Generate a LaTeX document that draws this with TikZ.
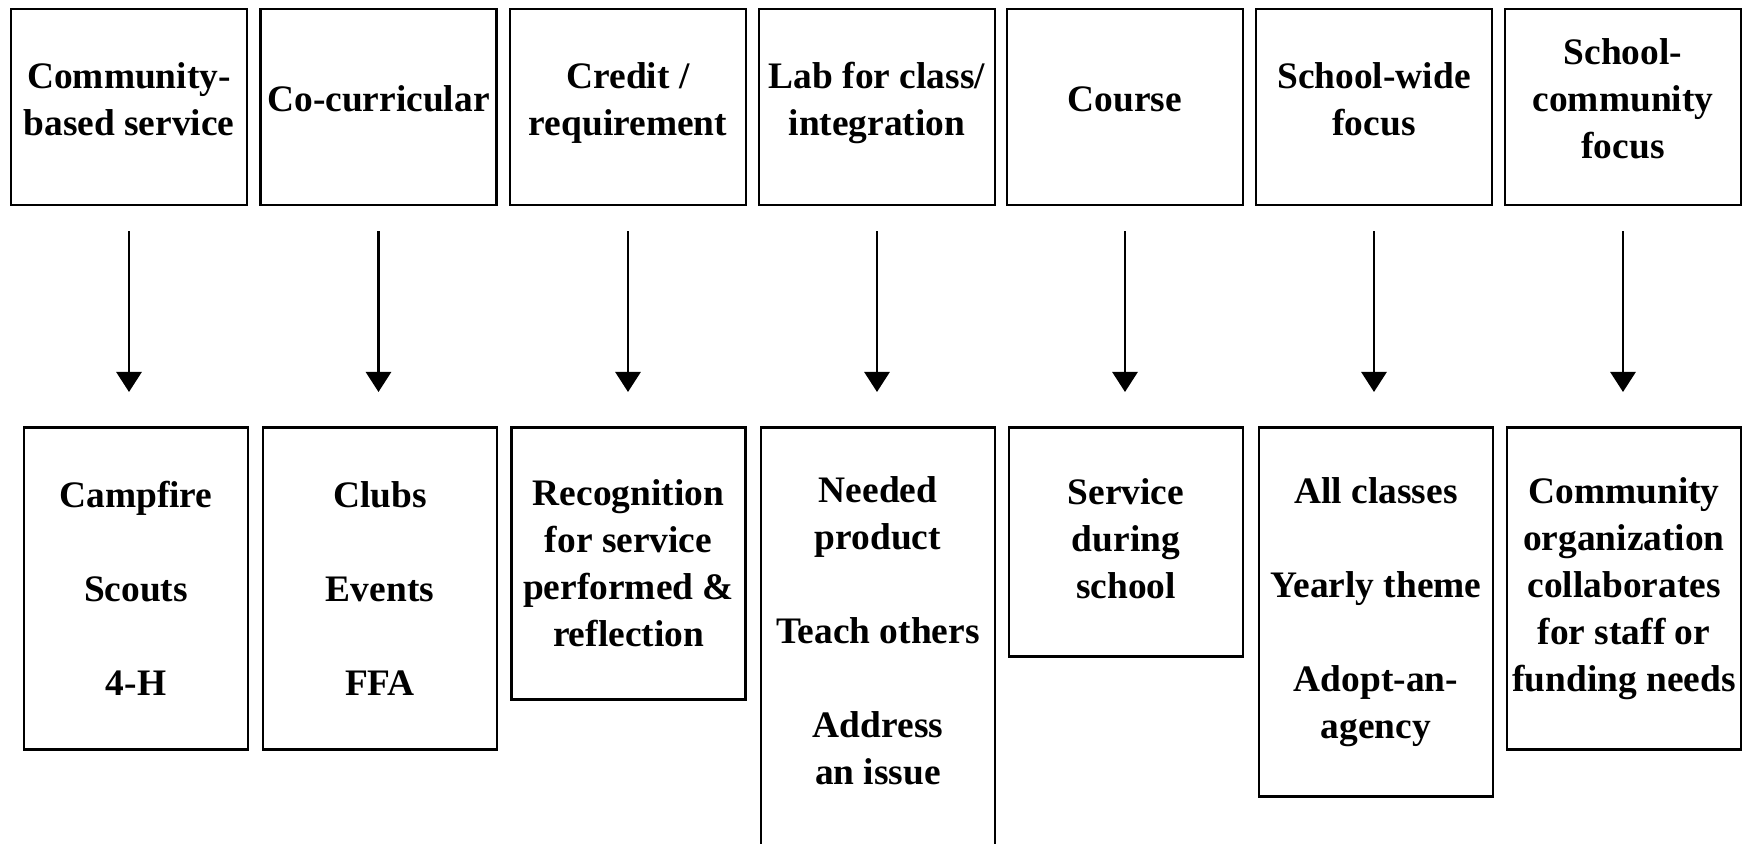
\documentclass[tikz,border=0pt]{standalone}
\usepackage{fontspec}
\setmainfont{Liberation Serif}
\usetikzlibrary{arrows.meta}
\newcommand{\skipline}{\\[\baselineskip]}

\begin{document}
\begin{tikzpicture}[x=0.5pt,y=0.5pt,yscale=-1,
  box/.style={draw,line width=1.4pt,align=center,inner sep=1pt,
    font=\fontsize{18.7}{23.5}\selectfont\bfseries},
  topbox/.style={box,minimum width=118pt,minimum height=98pt,text depth=8pt},
  lowbox/.style={box,anchor=north,minimum width=117pt},
  link/.style={-{Triangle[length=10pt,width=12.5pt]},line width=1.4pt,
    shorten <=12.5pt,shorten >=17pt}]
\useasboundingbox (0,0) rectangle (1747,844);

% Text Node
\node [topbox] (t1) at (129,107) {Community-\\based service};
% Text Node
\node [topbox] (t2) at (378.5,107) {Co-curricular};
% Text Node
\node [topbox] (t3) at (628,107) {Credit /\\requirement};
% Text Node
\node [topbox] (t4) at (877,107) {Lab for class/\\integration};
% Text Node
\node [topbox] (t5) at (1125,107) {Course};
% Text Node
\node [topbox] (t6) at (1374,107) {School-wide\\focus};
% Text Node
\node [topbox] (t7) at (1623,107) {School-\\community\\focus};

% Text Node
\node [lowbox,minimum width=112pt,minimum height=161pt] (b1) at (136,426) {Campfire\skipline Scouts\skipline 4-H};
% Text Node
\node [lowbox,minimum height=161pt] (b2) at (380,426) {Clubs\skipline Events\skipline FFA};
% Text Node
\node [lowbox,minimum height=136pt] (b3) at (628.5,426) {Recognition\\for service\\performed \&\\reflection};
% Text Node
\node [lowbox,minimum height=212pt,text depth=9pt] (b4) at (878,426) {Needed\\product\skipline Teach others\skipline Address\\an issue};
% Text Node
\node [lowbox,minimum height=114.5pt,text depth=3pt] (b5) at (1126,426) {Service\\during\\school};
% Text Node
\node [lowbox,minimum height=184.5pt] (b6) at (1376,426) {All classes\skipline Yearly theme\skipline Adopt-an-\\agency};
% Text Node
\node [lowbox,minimum height=161pt] (b7) at (1624,426) {Community\\organization\\collaborates\\for staff or\\funding needs};

% Connection
\draw [link] (t1.south) -- (t1.south |- b1.north);
% Connection
\draw [link] (t2.south) -- (t2.south |- b2.north);
% Connection
\draw [link] (t3.south) -- (t3.south |- b3.north);
% Connection
\draw [link] (t4.south) -- (t4.south |- b4.north);
% Connection
\draw [link] (t5.south) -- (t5.south |- b5.north);
% Connection
\draw [link] (t6.south) -- (t6.south |- b6.north);
% Connection
\draw [link] (t7.south) -- (t7.south |- b7.north);

\end{tikzpicture}
\end{document}
